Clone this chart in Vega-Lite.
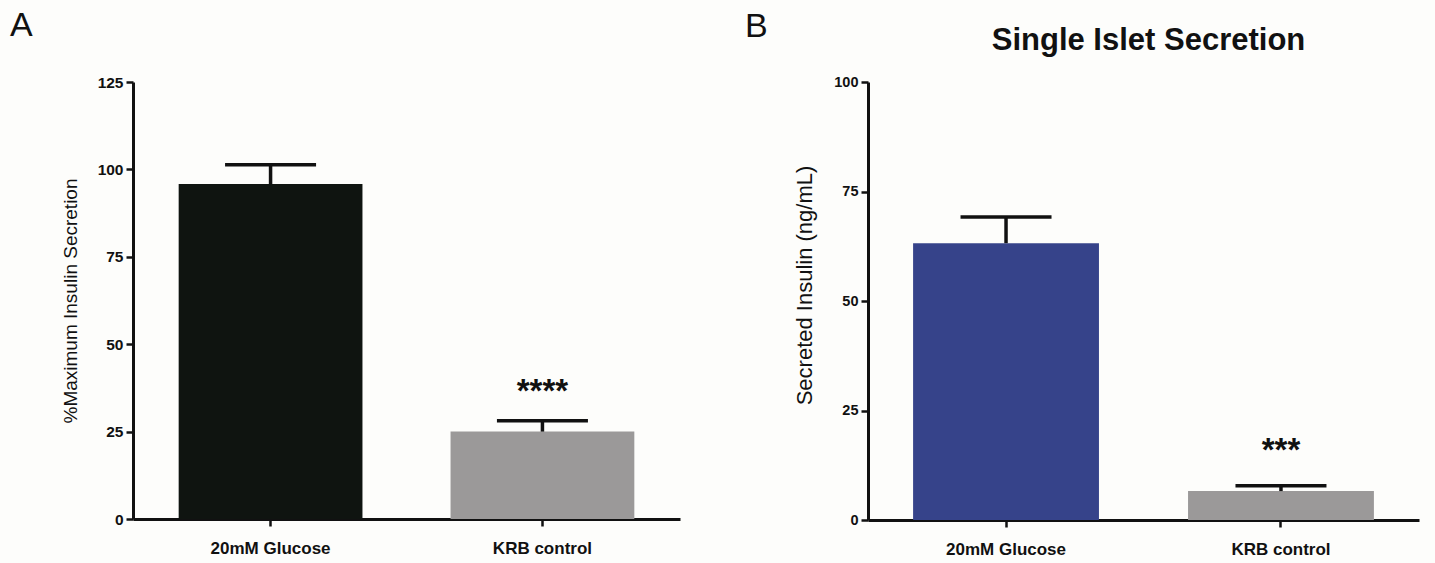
{
  "$schema": "https://vega.github.io/schema/vega-lite/v6.json",
  "background": "#fdfdfb",
  "padding": {"left": 10, "top": 9, "right": 16, "bottom": 6},
  "spacing": 188,
  "bounds": "flush",
  "config": {
    "font": "Liberation Sans",
    "view": {"stroke": null},
    "axis": {
      "domainColor": "#111111",
      "domainWidth": 3,
      "tickColor": "#111111",
      "tickWidth": 2.5,
      "tickSize": 7,
      "grid": false,
      "labelFont": "Liberation Sans",
      "labelFontWeight": "bold",
      "labelColor": "#111111",
      "titleFont": "Liberation Sans",
      "titleFontWeight": "normal",
      "titleColor": "#111111"
    },
    "axisX": {"labelAngle": 0, "labelFontSize": 17, "labelPadding": 14, "title": null},
    "axisY": {"labelFontSize": 15.5, "labelPadding": 3, "titleFontSize": 19, "titlePadding": 17}
  },
  "resolve": {"scale": {"x": "independent", "y": "independent"}},
  "hconcat": [
    {
      "width": 547,
      "height": 437,
      "title": {"text": "A", "anchor": "start", "frame": "group", "dx": -123, "offset": 5, "fontSize": 34, "fontWeight": "normal", "color": "#111111", "baseline": "alphabetic"},
      "data": {"values": [
        {"condition": "20mM Glucose", "mean": 95.8, "upper": 101.3, "sig": ""},
        {"condition": "KRB control", "mean": 25.0, "upper": 28.1, "sig": "****"}
      ]},
      "encoding": {
        "x": {"field": "condition", "type": "nominal", "sort": null, "scale": {"paddingInner": 0.324, "paddingOuter": 0.168}, "axis": {"title": null}}
      },
      "layer": [
        {
          "mark": {"type": "bar"},
          "encoding": {
            "y": {"field": "mean", "type": "quantitative", "scale": {"domain": [0, 125], "nice": false}, "axis": {"values": [0, 25, 50, 75, 100, 125], "title": "%Maximum Insulin Secretion"}},
            "color": {"condition": {"test": "datum.condition === 'KRB control'", "value": "#9b9999"}, "value": "#0f1410"}
          }
        },
        {
          "mark": {"type": "rule", "strokeWidth": 3.5, "color": "#111111"},
          "encoding": {"y": {"field": "mean", "type": "quantitative"}, "y2": {"field": "upper"}}
        },
        {
          "mark": {"type": "tick", "thickness": 3.5, "size": 91, "color": "#111111", "opacity": 1},
          "encoding": {"y": {"field": "upper", "type": "quantitative"}}
        },
        {
          "mark": {"type": "text", "fontSize": 33, "fontWeight": "bold", "baseline": "alphabetic", "dy": -19, "color": "#111111"},
          "encoding": {"y": {"field": "upper", "type": "quantitative"}, "text": {"field": "sig"}}
        }
      ]
    },
    {
      "title": {"text": "B", "anchor": "start", "frame": "group", "dx": -123, "offset": -46, "fontSize": 34, "fontWeight": "normal", "color": "#111111", "baseline": "alphabetic"},
      "vconcat": [
        {
          "width": 551,
          "height": 438,
          "title": {"text": "Single Islet Secretion", "anchor": "middle", "frame": "group", "dx": 5, "offset": -7, "fontSize": 31, "fontWeight": "bold", "color": "#111111", "baseline": "alphabetic"},
          "data": {"values": [
            {"condition": "20mM Glucose", "mean": 63.2, "upper": 69.2, "sig": ""},
            {"condition": "KRB control", "mean": 6.6, "upper": 7.8, "sig": "***"}
          ]},
          "encoding": {
            "x": {"field": "condition", "type": "nominal", "sort": null, "scale": {"paddingInner": 0.324, "paddingOuter": 0.164}, "axis": {"title": null}}
          },
          "layer": [
            {
              "mark": {"type": "bar"},
              "encoding": {
                "y": {"field": "mean", "type": "quantitative", "scale": {"domain": [0, 100], "nice": false}, "axis": {"values": [0, 25, 50, 75, 100], "title": "Secreted Insulin (ng/mL)", "labelFontSize": 14.5, "titleFontSize": 22, "titleY": 203}},
                "color": {"condition": {"test": "datum.condition === 'KRB control'", "value": "#9b9999"}, "value": "#36438a"}
              }
            },
            {
              "mark": {"type": "rule", "strokeWidth": 3.5, "color": "#111111"},
              "encoding": {"y": {"field": "mean", "type": "quantitative"}, "y2": {"field": "upper"}}
            },
            {
              "mark": {"type": "tick", "thickness": 3.5, "size": 91, "color": "#111111", "opacity": 1},
              "encoding": {"y": {"field": "upper", "type": "quantitative"}}
            },
            {
              "mark": {"type": "text", "fontSize": 33, "fontWeight": "bold", "baseline": "alphabetic", "dy": -25, "color": "#111111"},
              "encoding": {"y": {"field": "upper", "type": "quantitative"}, "text": {"field": "sig"}}
            }
          ]
        }
      ]
    }
  ]
}
